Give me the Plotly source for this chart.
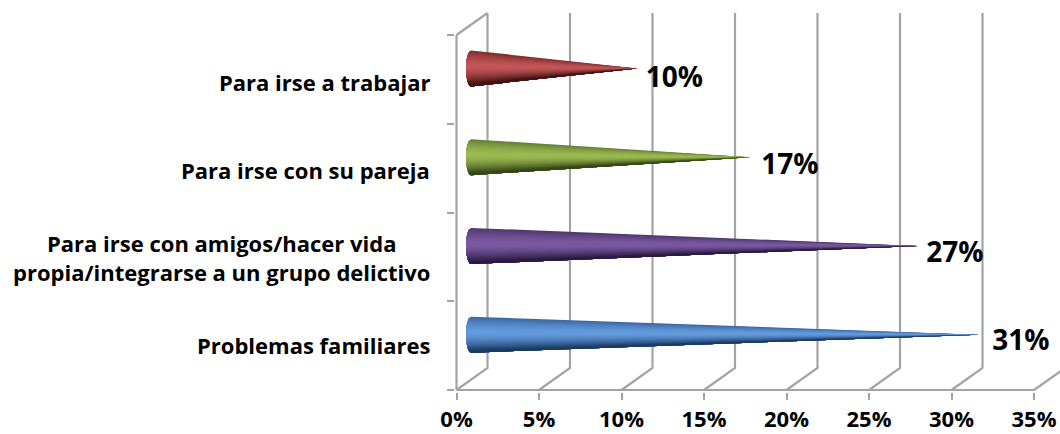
import numpy as np
import plotly.graph_objects as go

categories = ["Problemas familiares",
              "Para irse con amigos/hacer vida<br>propia/integrarse a un grupo delictivo",
              "Para irse con su pareja",
              "Para irse a trabajar"]
values = [30.7, 27.0, 16.85, 10.0]
shown = [31, 27, 17, 10]
tick_vals = [0, 5, 10, 15, 20, 25, 30, 35]
tick_text = ["0%", "5%", "10%", "15%", "20%", "25%", "30%", "35%"]

# light, mid, dark shades for each cone
shades = [("#649cdf", "#3f74b5", "#1c3a63"),
          ("#7b5aa3", "#5a3d7c", "#2b1b40"),
          ("#9cbb52", "#74923a", "#36461a"),
          ("#c4575a", "#94302d", "#431312")]

W, H = 1060, 434
X0, X35, Y0, Y4 = 456.5, 1034.0, 390.0, 35.0
PAD = 1.5
px_x = (X35 - X0) / 35
px_y = (Y0 - Y4) / 4
DX = 31 / px_x
DY = 22 / px_y
GRID = "#a3a3a3"
FONT = "Open Sans"

fig = go.Figure()


def line(xs, ys):
    fig.add_trace(go.Scatter(x=xs, y=ys, mode="lines", cliponaxis=False, hoverinfo="skip",
                             line=dict(color=GRID, width=2.2), showlegend=False))


for v in tick_vals:
    line([v, v + DX, v + DX], [0, DY, 4 + DY])
line([0, DX], [4, 4 + DY])
line([0, 0], [0, 4])
line([0, 35], [0, 0])


def shade(t, c):
    """t: -1 top edge, 1 bottom edge of the cone"""
    light, mid, dark = [np.array([int(h[i:i + 2], 16) for i in (1, 3, 5)], float) for h in c]
    if t < 0:
        top = mid * 0.55 + dark * 0.45
        col = light + (top - light) * min(1.0, -t) ** 1.6
    else:
        col = light + (dark - light) * min(1.0, t) ** 1.6
    return "rgb(%d,%d,%d)" % tuple(col)


N = 30
R_Y = 18 / px_y
R_X = 5 / px_x
for i, v in enumerate(values):
    cy = i + 0.5 + DY / 2
    cx = 14.5 / px_x
    tip = v + DX / 2
    edges = np.linspace(-1, 1, N + 1)
    for a, b in zip(edges[:-1], edges[1:]):
        # each band reaches the bottom edge; the next one paints over it, so no seams show
        ts = np.linspace(a, 1, 24)
        xs = [tip] + list(cx - R_X * np.sqrt(np.clip(1 - ts ** 2, 0, 1))) + [tip]
        ys = [cy] + list(cy - ts * R_Y) + [cy]
        col = shade((a + b) / 2 + 0.12, shades[i])
        fig.add_trace(go.Scatter(x=xs, y=ys, mode="lines", fill="toself", fillcolor=col,
                                 cliponaxis=False, hoverinfo="skip", showlegend=False,
                                 line=dict(color=col, width=0)))

fig.add_trace(go.Scatter(x=[s + 3.2 for s in shown], y=[i + 0.53 - 0.011 * i for i in range(4)],
                         mode="text", text=["%d%%" % s for s in shown], cliponaxis=False,
                         textposition="middle center", hoverinfo="skip", showlegend=False,
                         textfont=dict(family=FONT, size=28, color="#000000", weight="bold")))

for i, c in enumerate(categories):
    fig.add_annotation(x=0, y=i + 0.505 - 0.013 * i, xref="x", yref="y", text="<b>%s</b>" % c,
                       xanchor="right", yanchor="middle", xshift=-25, align="center",
                       showarrow=False, font=dict(family=FONT, size=22, color="#000000"))

fig.update_layout(
    width=W, height=H, autosize=False,
    margin=dict(l=0, r=0, t=0, b=0, autoexpand=False),
    paper_bgcolor="white", plot_bgcolor="white", showlegend=False,
    xaxis=dict(domain=[(X0 - PAD) / W, 1], range=[-PAD / px_x, (W - X0) / px_x],
               tickvals=tick_vals, ticktext=tick_text,
               ticks="outside", ticklen=7, tickwidth=2, tickcolor=GRID, showgrid=False,
               zeroline=False, showline=False, ticklabelstandoff=1,
               tickfont=dict(family=FONT, size=22, color="#000000", weight="bold")),
    yaxis=dict(domain=[(H - Y0 - PAD) / H, 1], range=[-PAD / px_y, Y0 / px_y],
               tickvals=[0, 1, 2, 3, 4],
               ticktext=[""] * 5, ticks="outside", ticklen=7, tickwidth=2, tickcolor=GRID,
               showgrid=False, zeroline=False, showline=False),
)
fig.write_html("out.html", config=dict(displayModeBar=False),
               post_script="document.body.style.margin='0';")
